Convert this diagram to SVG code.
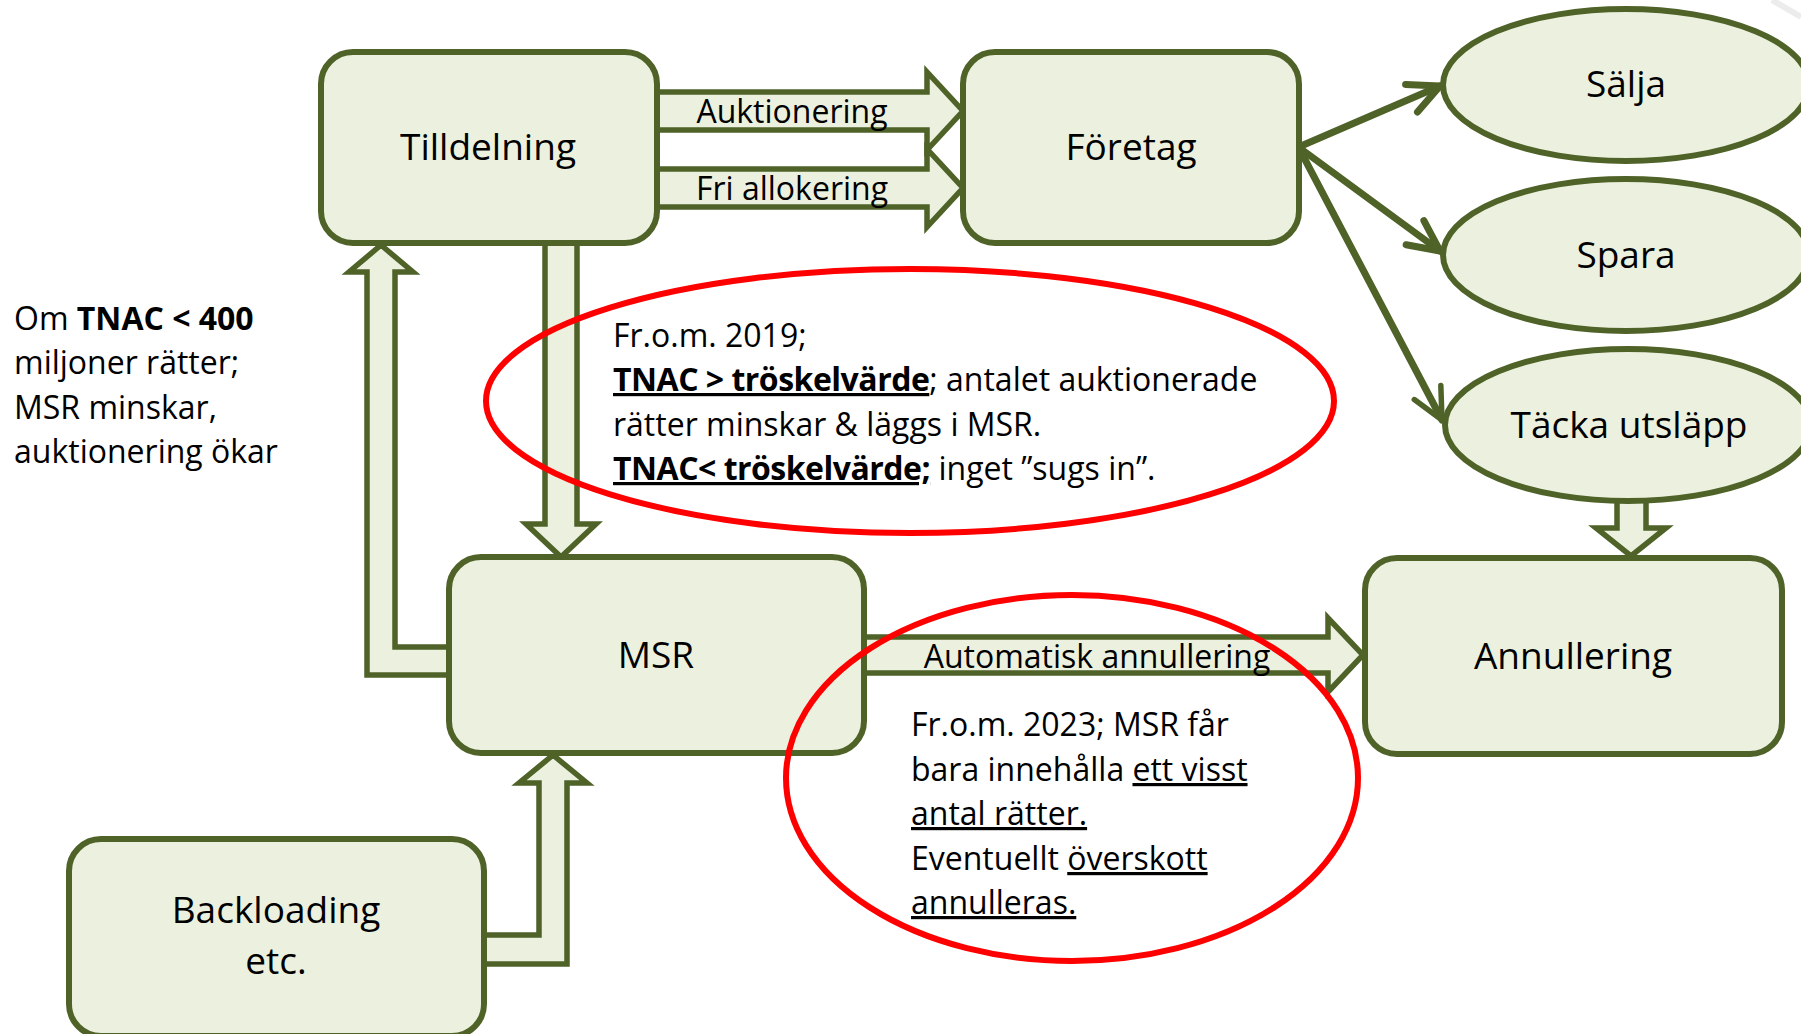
<svg xmlns="http://www.w3.org/2000/svg" width="1801" height="1034" viewBox="0 0 1801 1034">
<style>
.box{fill:#EBF1DE;stroke:#4F6228;stroke-width:6}
.blk{fill:#EBF1DE;stroke:#4F6228;stroke-width:5.5;stroke-linejoin:miter}
.ln{fill:none;stroke:#4F6228;stroke-width:7;stroke-linecap:round}
.red{fill:none;stroke:#FF0000;stroke-width:6}
.lbl{font-family:"Open Sans","Noto Sans",sans-serif;font-size:37px;text-anchor:middle;fill:#000}
.alb{font-family:"Open Sans","Noto Sans",sans-serif;font-size:32px;text-anchor:middle;fill:#000}
.txt{font-family:"Open Sans","Noto Sans",sans-serif;font-size:32px;fill:#000}
.b{font-weight:bold}
.nb{letter-spacing:-0.5px}
.u{text-decoration:underline}
</style>
<defs>
<marker id="vhead" markerUnits="userSpaceOnUse" viewBox="-40 -20 46 40" markerWidth="46" markerHeight="40" refX="0" refY="0" orient="auto" overflow="visible">
<path d="M-31,-15 L0,0 L-31,15" fill="none" stroke="#4F6228" stroke-width="7" stroke-linecap="round" stroke-linejoin="round"/>
</marker>
<marker id="vhead2" markerUnits="userSpaceOnUse" viewBox="-40 -20 46 40" markerWidth="46" markerHeight="40" refX="0" refY="0" orient="auto" overflow="visible">
<path d="M-31,-15 L0,0 L-31,15" fill="none" stroke="#4F6228" stroke-width="5.5" stroke-linecap="round" stroke-linejoin="round"/>
</marker>
</defs>
<rect width="1801" height="1034" fill="#FFFFFF"/>
<line x1="1772" y1="0" x2="1801" y2="17" stroke="#ECECEC" stroke-width="6"/>

<g id="connectors">
<polygon class="blk" points="650,92 927,92 927,72 963,111 927,150 927,130 650,130"/>
<polygon class="blk" points="650,169 927,169 927,149 963,188 927,227 927,207 650,207"/>
<polygon class="blk" points="545,236 577,236 577,524 596,524 561,557 526,524 545,524"/>
<polygon class="blk" points="456,675 367,675 367,272 349,272 381,245 413,272 395,272 395,647 456,647"/>
<polygon class="blk" points="478,964 567,964 567,783 587,783 553,755 519,783 539,783 539,935 478,935"/>
<polygon class="blk" points="858,637 1328,637 1328,618 1363,655 1328,692 1328,673 858,673"/>
<polygon class="blk" points="1617,490 1646,490 1646,528 1666,528 1631,556 1596,528 1617,528"/>
<line class="ln" x1="1301" y1="146" x2="1440" y2="86" marker-end="url(#vhead)"/>
<line class="ln" x1="1301" y1="149" x2="1440" y2="251" marker-end="url(#vhead)"/>
<line class="ln" x1="1301" y1="152" x2="1442" y2="420" stroke-width="5.5" marker-end="url(#vhead2)"/>
<text class="alb" x="792" y="123">Auktionering</text>
<text class="alb" x="792" y="200">Fri allokering</text>
<text class="alb" x="1097" y="668">Automatisk annullering</text>
</g>

<g id="node-tilldelning">
<rect class="box" x="321" y="52" width="336" height="191" rx="32"/>
<text class="lbl" x="488" y="160">Tilldelning</text>
</g>
<g id="node-foretag">
<rect class="box" x="963" y="52" width="336" height="191" rx="32"/>
<text class="lbl" x="1131" y="160">Företag</text>
</g>
<g id="node-salja">
<ellipse class="box" cx="1626" cy="85" rx="183" ry="76"/>
<text class="lbl" x="1626" y="97">Sälja</text>
</g>
<g id="node-spara">
<ellipse class="box" cx="1626" cy="255" rx="183" ry="76"/>
<text class="lbl" x="1626" y="268">Spara</text>
</g>
<g id="node-tacka">
<ellipse class="box" cx="1628" cy="425" rx="183" ry="76"/>
<text class="lbl" x="1629" y="438">Täcka utsläpp</text>
</g>
<g id="node-msr">
<rect class="box" x="449" y="557" width="415" height="196" rx="32"/>
<text class="lbl" x="656" y="668">MSR</text>
</g>
<g id="node-annullering">
<rect class="box" x="1365" y="558" width="417" height="196" rx="32"/>
<text class="lbl" x="1573" y="669">Annullering</text>
</g>
<g id="node-backloading">
<rect class="box" x="69" y="839" width="415" height="197" rx="32"/>
<text class="lbl" x="276" y="923">Backloading</text>
<text class="lbl" x="276" y="974">etc.</text>
</g>

<g id="note-tnac">
<text class="txt" x="14" y="330">Om <tspan class="b">TNAC &lt; 400</tspan></text>
<text class="txt" x="14" y="374">miljoner rätter;</text>
<text class="txt" x="14" y="419">MSR minskar,</text>
<text class="txt" x="14" y="463">auktionering ökar</text>
</g>

<g id="note-2019">
<ellipse class="red" cx="910" cy="401" rx="424" ry="132"/>
<text class="txt" x="613" y="347">Fr.o.m. 2019;</text>
<text class="txt" x="613" y="391"><tspan class="b u nb">TNAC &gt; tröskelvärde</tspan>; antalet auktionerade</text>
<text class="txt" x="613" y="436">rätter minskar &amp; läggs i MSR.</text>
<text class="txt" x="613" y="480"><tspan class="b u nb">TNAC&lt; tröskelvärde;</tspan> inget ”sugs in”.</text>
</g>

<g id="note-2023">
<ellipse class="red" cx="1072" cy="778" rx="286" ry="183"/>
<text class="txt" x="911" y="736">Fr.o.m. 2023; MSR får</text>
<text class="txt" x="911" y="781">bara innehålla <tspan class="u">ett visst</tspan></text>
<text class="txt" x="911" y="825"><tspan class="u">antal rätter.</tspan></text>
<text class="txt" x="911" y="870">Eventuellt <tspan class="u">överskott</tspan></text>
<text class="txt" x="911" y="914"><tspan class="u">annulleras.</tspan></text>
</g>
</svg>
